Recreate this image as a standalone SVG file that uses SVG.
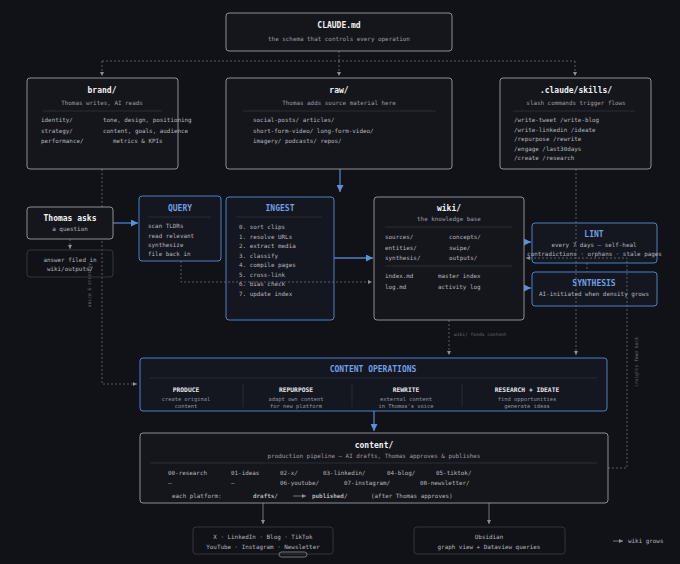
<svg xmlns="http://www.w3.org/2000/svg" width="680" height="564" viewBox="0 0 680 564">
<style>
.bg{fill:#111218}
.n{fill:#15161c;stroke:#8d8e94;stroke-width:1}
.nb{fill:rgba(70,120,200,0.05);stroke:#4f7fc6;stroke-width:1}
.nd{fill:none;stroke:#34353c;stroke-width:1}
text{font-family:"DejaVu Sans Mono","Liberation Mono",monospace;dominant-baseline:central}
.t{fill:#f2f2f4;font-weight:bold;font-size:8px;text-anchor:middle}
.tb{fill:#6f9fe6;font-weight:bold;font-size:8px;text-anchor:middle}
.s{fill:#9a9ba0;font-size:5.9px;text-anchor:middle}
.b{fill:#b4b5ba;font-size:5.9px}
.c{fill:#b4b5ba;font-size:5.9px;text-anchor:middle}
.h{fill:#e6e6ea;font-weight:bold;font-size:6.3px;text-anchor:middle}
.d{fill:#94959b;font-size:5.4px;text-anchor:middle}
.f{fill:#6c6d74;font-size:4.6px}
.div{stroke:#2a2c34;stroke-width:1}
.cg{stroke:#6c6d74;stroke-width:0.8;stroke-dasharray:2 2;fill:none}
.cs{stroke:#8d8e94;stroke-width:0.8;fill:none}
.cb{stroke:#4f7fc6;stroke-width:1.3;fill:none}
</style>
<defs>
<marker id="ag" viewBox="0 0 6 6" refX="6" refY="3" markerWidth="4" markerHeight="4" markerUnits="userSpaceOnUse" orient="auto"><path d="M0,0L6,3L0,6z" fill="#8d8e94"/></marker>
<marker id="ab" viewBox="0 0 6 6" refX="6" refY="3" markerWidth="7" markerHeight="7" markerUnits="userSpaceOnUse" orient="auto"><path d="M0,0L6,3L0,6z" fill="#5b8fd8"/></marker>
</defs>
<rect class="bg" x="0" y="0" width="680" height="564"/>

<g id="connectors">
<path class="cg" d="M339,51V61M102,61H575M102,61V76" marker-end="url(#ag)"/>
<path class="cg" d="M339,61V76" marker-end="url(#ag)"/>
<path class="cg" d="M575,61V76" marker-end="url(#ag)"/>
<path class="cb" d="M340,169V192" marker-end="url(#ab)"/>
<path class="cb" d="M113,223H138" marker-end="url(#ab)"/>
<path class="cb" d="M334,258H373" marker-end="url(#ab)"/>
<path class="cb" d="M524,242H531" marker-end="url(#ab)"/>
<path class="cb" d="M524,288H531" marker-end="url(#ab)"/>
<path class="cb" d="M374,411V431" marker-end="url(#ab)"/>
<path class="cg" d="M70,239V249" marker-end="url(#ag)"/>
<path class="cg" d="M102,169V384H137" marker-end="url(#ag)"/>
<path class="cg" d="M181,261V282H372" marker-end="url(#ag)"/>
<path class="cg" d="M449,320V355" marker-end="url(#ag)"/>
<path class="cg" d="M576,169V355" marker-end="url(#ag)"/>
<path class="cg" d="M587,263V272"/>
<path class="cg" d="M608,468H627V258H526" marker-end="url(#ag)"/>
<path class="cs" d="M263,503V524" marker-end="url(#ag)"/>
<path class="cs" d="M489,503V524" marker-end="url(#ag)"/>
<text class="f" x="454" y="334">wiki/ feeds content</text>
<text class="f" transform="translate(89,285) rotate(-90)" text-anchor="middle">voice &amp; strategy</text>
<text class="f" transform="translate(636,362) rotate(-90)" text-anchor="middle">insights feed back</text>
</g>

<g id="claude">
<rect class="n" x="226" y="13" width="226" height="38" rx="3"/>
<text class="t" x="339" y="25" font-size="9">CLAUDE.md</text>
<text class="s" x="339" y="39" font-size="6.4">the schema that controls every operation</text>
</g>

<g id="brand">
<rect class="n" x="27" y="78" width="151" height="91" rx="3"/>
<text class="t" x="102" y="90">brand/</text>
<text class="s" x="102" y="103">Thomas writes, AI reads</text>
<line class="div" x1="43" y1="111" x2="162" y2="111"/>
<text class="b" x="41" y="120">identity/</text>
<text class="b" x="41" y="131">strategy/</text>
<text class="b" x="41" y="141">performance/</text>
<text class="b" x="103" y="120">tone, design, positioning</text>
<text class="b" x="103" y="131">content, goals, audience</text>
<text class="b" x="113" y="141">metrics &amp; KPIs</text>
</g>

<g id="raw">
<rect class="n" x="226" y="78" width="226" height="91" rx="3"/>
<text class="t" x="339" y="90">raw/</text>
<text class="s" x="339" y="103">Thomas adds source material here</text>
<line class="div" x1="243" y1="111" x2="436" y2="111"/>
<text class="b" x="253" y="120">social-posts/ articles/</text>
<text class="b" x="253" y="131">short-form-video/ long-form-video/</text>
<text class="b" x="253" y="141">imagery/ podcasts/ repos/</text>
</g>

<g id="skills">
<rect class="n" x="500" y="78" width="151" height="91" rx="3"/>
<text class="t" x="576" y="90">.claude/skills/</text>
<text class="s" x="576" y="103">slash commands trigger flows</text>
<line class="div" x1="513" y1="111" x2="635" y2="111"/>
<text class="b" x="514" y="120">/write-tweet /write-blog</text>
<text class="b" x="514" y="129.5">/write-linkedin /ideate</text>
<text class="b" x="514" y="139">/repurpose /rewrite</text>
<text class="b" x="514" y="149">/engage /last30days</text>
<text class="b" x="514" y="158">/create /research</text>
</g>

<g id="thomas">
<rect class="n" x="27" y="207" width="86" height="32" rx="3"/>
<text class="t" x="70" y="218" font-size="6.8">Thomas asks</text>
<text class="c" x="70" y="229">a question</text>
</g>

<g id="answer">
<rect class="nd" x="27" y="250" width="86" height="27" rx="3"/>
<text class="c" x="70" y="260" fill="#9a9ba0">answer filed in</text>
<text class="c" x="70" y="269" fill="#9a9ba0">wiki/outputs/</text>
</g>

<g id="query">
<rect class="nb" x="139" y="196" width="82" height="65" rx="3"/>
<text class="tb" x="180" y="208">QUERY</text>
<line class="div" x1="148" y1="217" x2="211" y2="217"/>
<text class="b" x="148" y="226">scan TLDRs</text>
<text class="b" x="148" y="235.5">read relevant</text>
<text class="b" x="148" y="245">synthesize</text>
<text class="b" x="148" y="254">file back in</text>
</g>

<g id="ingest">
<rect class="nb" x="226" y="197" width="108" height="123" rx="3"/>
<text class="tb" x="280" y="208">INGEST</text>
<line class="div" x1="236" y1="217" x2="322" y2="217"/>
<text class="b" x="239" y="227">0. sort clips</text>
<text class="b" x="239" y="236.5">1. resolve URLs</text>
<text class="b" x="239" y="246">2. extract media</text>
<text class="b" x="239" y="255.5">3. classify</text>
<text class="b" x="239" y="265">4. compile pages</text>
<text class="b" x="239" y="274.5">5. cross-link</text>
<text class="b" x="239" y="284">6. bias check</text>
<text class="b" x="239" y="294">7. update index</text>
</g>

<g id="wiki">
<rect class="n" x="374" y="197" width="150" height="123" rx="3"/>
<text class="t" x="449" y="208">wiki/</text>
<text class="s" x="449" y="219">the knowledge base</text>
<line class="div" x1="385" y1="227" x2="512" y2="227"/>
<text class="b" x="385" y="237">sources/</text>
<text class="b" x="385" y="247.5">entities/</text>
<text class="b" x="385" y="258">synthesis/</text>
<text class="b" x="449" y="237">concepts/</text>
<text class="b" x="449" y="247.5">swipe/</text>
<text class="b" x="449" y="258">outputs/</text>
<line class="div" x1="385" y1="266" x2="512" y2="266"/>
<text class="b" x="385" y="276">index.md</text>
<text class="b" x="385" y="287">log.md</text>
<text class="b" x="438" y="276">master index</text>
<text class="b" x="438" y="287">activity log</text>
</g>

<g id="lint">
<rect class="nb" x="532" y="223" width="125" height="40" rx="3"/>
<text class="tb" x="594" y="234">LINT</text>
<text class="c" x="594" y="245">every 7 days — self-heal</text>
<text class="c" x="594.5" y="254" font-size="5.4">contradictions · orphans · stale pages</text>
</g>

<g id="synthesis">
<rect class="nb" x="532" y="272" width="125" height="34" rx="3"/>
<text class="tb" x="594" y="283">SYNTHESIS</text>
<text class="c" x="594" y="294">AI-initiated when density grows</text>
</g>

<g id="contentops">
<rect class="nb" x="140" y="358" width="467" height="53" rx="3"/>
<text class="tb" x="373" y="369">CONTENT OPERATIONS</text>
<line class="div" x1="150" y1="378" x2="597" y2="378"/>
<line class="div" x1="243" y1="384" x2="243" y2="407"/>
<line class="div" x1="352" y1="384" x2="352" y2="407"/>
<line class="div" x1="462" y1="384" x2="462" y2="407"/>
<text class="h" x="186" y="389">PRODUCE</text>
<text class="d" x="186" y="399">create original</text>
<text class="d" x="186" y="406">content</text>
<text class="h" x="296" y="389">REPURPOSE</text>
<text class="d" x="296" y="399">adapt own content</text>
<text class="d" x="296" y="406">for new platform</text>
<text class="h" x="406" y="389">REWRITE</text>
<text class="d" x="406" y="399">external content</text>
<text class="d" x="406" y="406">in Thomas's voice</text>
<text class="h" x="527" y="389">RESEARCH + IDEATE</text>
<text class="d" x="527" y="399">find opportunities</text>
<text class="d" x="527" y="406">generate ideas</text>
</g>

<g id="content">
<rect class="n" x="140" y="433" width="468" height="70" rx="3"/>
<text class="t" x="374" y="445">content/</text>
<text class="s" x="374" y="456">production pipeline — AI drafts, Thomas approves &amp; publishes</text>
<line class="div" x1="150" y1="463" x2="597" y2="463"/>
<text class="b" x="168" y="473" fill="#5b8fd8">00-research</text>
<text class="b" x="231" y="473" fill="#5b8fd8">01-ideas</text>
<text class="b" x="280" y="473">02-x/</text>
<text class="b" x="323" y="473">03-linkedin/</text>
<text class="b" x="387" y="473">04-blog/</text>
<text class="b" x="436" y="473">05-tiktok/</text>
<text class="b" x="168" y="483">–</text>
<text class="b" x="231" y="483">–</text>
<text class="b" x="280" y="483">06-youtube/</text>
<text class="b" x="344" y="483">07-instagram/</text>
<text class="b" x="420" y="483">08-newsletter/</text>
<text class="b" x="172" y="496" fill="#8a8b90">each platform:</text>
<text class="b" x="253" y="496" fill="#f2f2f4" font-weight="bold" font-size="6.2">drafts/</text>
<path class="cs" d="M293,496H306" marker-end="url(#ag)"/>
<text class="b" x="312" y="496" fill="#f2f2f4" font-weight="bold" font-size="6.2">published/</text>
<text class="b" x="371" y="496" fill="#8a8b90" font-size="5.3">(after Thomas approves)</text>
</g>

<g id="platforms">
<rect class="nd" x="193" y="527" width="140" height="27" rx="3" stroke="#4a4b52"/>
<text class="c" x="263" y="537" font-size="6.4">X · LinkedIn · Blog · TikTok</text>
<text class="c" x="263" y="547" font-size="6.4">YouTube · Instagram · Newsletter</text>
<rect x="279" y="552" width="28" height="5" rx="2.5" fill="none" stroke="#8d8e94" stroke-width="0.8"/>
</g>

<g id="obsidian">
<rect class="nd" x="414" y="527" width="151" height="27" rx="3" stroke="#4a4b52"/>
<text class="c" x="489" y="537" font-size="6.6">Obsidian</text>
<text class="c" x="489" y="547">graph view + Dataview queries</text>
</g>

<g id="legend">
<path class="cs" d="M613,541H623" stroke="#55565c" marker-end="url(#ag)"/>
<text class="b" x="628" y="541" fill="#55565c" font-size="6.4">wiki grows</text>
</g>
</svg>
